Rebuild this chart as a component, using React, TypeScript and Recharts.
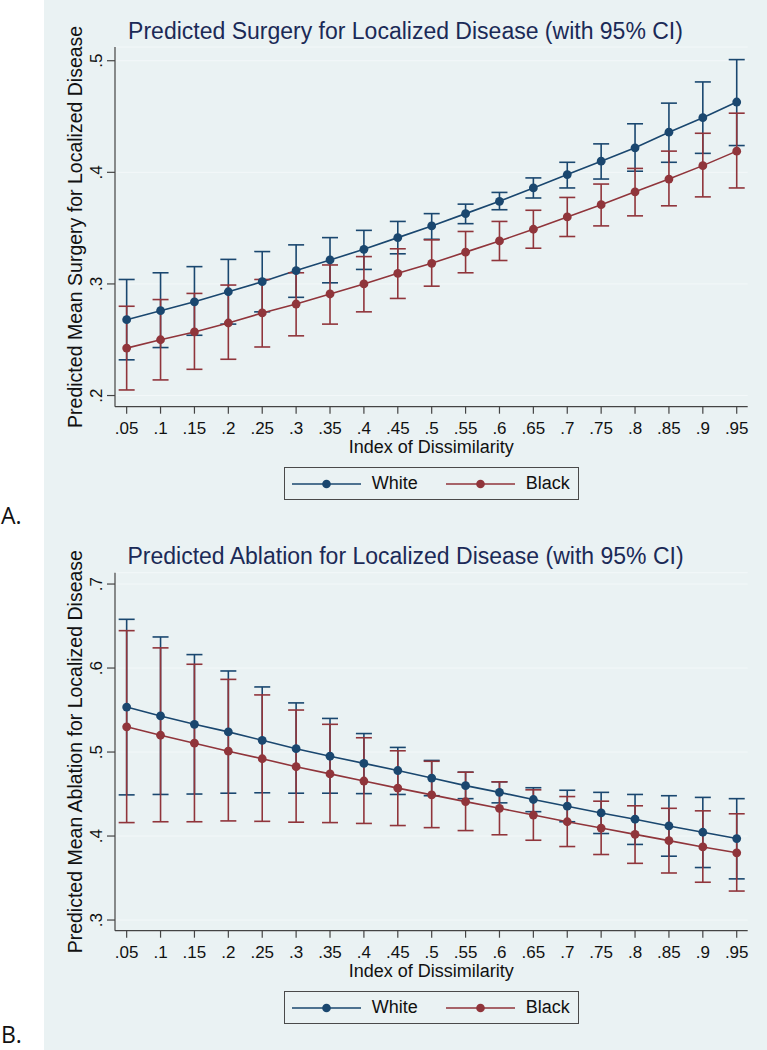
import {
  ComposedChart,
  Line,
  ErrorBar,
  XAxis,
  YAxis,
  CartesianGrid,
  Legend,
} from "recharts";

const BG = "#EAF2F3";
const NAVY = "#1A476F";
const MAROON = "#90353B";
const FONT = '"Liberation Sans", Arial, Helvetica, sans-serif';

// index of dissimilarity (x)
const dissimilarity = [
  0.05, 0.1, 0.15, 0.2, 0.25, 0.3, 0.35, 0.4, 0.45, 0.5, 0.55, 0.6, 0.65, 0.7,
  0.75, 0.8, 0.85, 0.9, 0.95,
];
const xTickLabels = [
  ".05", ".1", ".15", ".2", ".25", ".3", ".35", ".4", ".45", ".5", ".55", ".6",
  ".65", ".7", ".75", ".8", ".85", ".9", ".95",
];

// A. surgery
const surgeryWhite = [
  0.268, 0.276, 0.284, 0.293, 0.302, 0.312, 0.3215, 0.331, 0.3415, 0.352, 0.363,
  0.374, 0.386, 0.398, 0.41, 0.422, 0.436, 0.449, 0.463,
];
const surgeryWhiteLo = [
  0.232, 0.243, 0.254, 0.264, 0.275, 0.288, 0.301, 0.313, 0.327, 0.34, 0.354,
  0.3665, 0.377, 0.386, 0.394, 0.401, 0.409, 0.417, 0.424,
];
const surgeryWhiteHi = [
  0.304, 0.31, 0.3155, 0.322, 0.329, 0.335, 0.3415, 0.348, 0.356, 0.363, 0.3715,
  0.382, 0.395, 0.409, 0.4255, 0.4435, 0.462, 0.481, 0.501,
];
const surgeryBlack = [
  0.2425, 0.25, 0.257, 0.265, 0.274, 0.282, 0.291, 0.3, 0.3095, 0.3185, 0.3285,
  0.3385, 0.349, 0.36, 0.371, 0.3825, 0.394, 0.406, 0.419,
];
const surgeryBlackLo = [
  0.205, 0.214, 0.2235, 0.2325, 0.2435, 0.2535, 0.264, 0.275, 0.287, 0.298, 0.31,
  0.321, 0.332, 0.3425, 0.352, 0.361, 0.37, 0.378, 0.386,
];
const surgeryBlackHi = [
  0.28, 0.286, 0.2915, 0.299, 0.304, 0.31, 0.317, 0.3245, 0.3315, 0.3395, 0.347,
  0.356, 0.366, 0.3775, 0.3895, 0.4035, 0.419, 0.435, 0.453,
];
const surgeryTicks = [0.2, 0.3, 0.4, 0.5];
const surgeryTickLabels = [".2", ".3", ".4", ".5"];

// B. ablation
const ablationWhite = [
  0.5535, 0.543, 0.533, 0.524, 0.514, 0.504, 0.495, 0.4865, 0.478, 0.469, 0.46,
  0.452, 0.4435, 0.4355, 0.4275, 0.42, 0.412, 0.4045, 0.397,
];
const ablationWhiteLo = [
  0.449, 0.4495, 0.45, 0.451, 0.4515, 0.451, 0.451, 0.4505, 0.4495, 0.448,
  0.4445, 0.4395, 0.429, 0.417, 0.403, 0.39, 0.376, 0.3625, 0.349,
];
const ablationWhiteHi = [
  0.658, 0.637, 0.616, 0.5965, 0.5775, 0.5585, 0.54, 0.522, 0.5055, 0.49, 0.476,
  0.4645, 0.4575, 0.4545, 0.452, 0.4495, 0.448, 0.446, 0.4445,
];
const ablationBlack = [
  0.53, 0.52, 0.5105, 0.501, 0.492, 0.4825, 0.474, 0.4655, 0.457, 0.449, 0.441,
  0.433, 0.425, 0.417, 0.4095, 0.402, 0.3945, 0.387, 0.38,
];
const ablationBlackLo = [
  0.416, 0.417, 0.417, 0.418, 0.4175, 0.4165, 0.416, 0.415, 0.4125, 0.41, 0.4065,
  0.4015, 0.395, 0.3875, 0.378, 0.3675, 0.356, 0.345, 0.3345,
];
const ablationBlackHi = [
  0.6445, 0.624, 0.6045, 0.5865, 0.568, 0.55, 0.533, 0.517, 0.5015, 0.489, 0.476,
  0.4645, 0.455, 0.447, 0.4415, 0.436, 0.433, 0.43, 0.4265,
];
const ablationTicks = [0.3, 0.4, 0.5, 0.6, 0.7];
const ablationTickLabels = [".3", ".4", ".5", ".6", ".7"];

const legendItems = [
  { name: "White", color: NAVY },
  { name: "Black", color: MAROON },
];

function buildRows(
  wMean: number[],
  wLo: number[],
  wHi: number[],
  bMean: number[],
  bLo: number[],
  bHi: number[]
) {
  return dissimilarity.map((x, i) => ({
    x,
    white: wMean[i],
    whiteErr: [wMean[i] - wLo[i], wHi[i] - wMean[i]],
    black: bMean[i],
    blackErr: [bMean[i] - bLo[i], bHi[i] - bMean[i]],
  }));
}

const W = 723;
const H = 525;
const PLOT_LEFT = 71;
const PLOT_RIGHT = 703.7;
const X_DOMAIN = [0.0328, 0.9662];
const TITLE_SIZE = 23;

function LegendBox() {
  const iconLeft = [7.7, 161.7];
  const textLeft = [87.7, 241.7];
  return (
    <div
      style={{
        position: "relative",
        width: 295,
        height: 33,
        boxSizing: "border-box",
        border: "1px solid #4a4a4a",
        background: BG,
        fontFamily: FONT,
        fontSize: 18,
        color: "#111",
      }}
    >
      {legendItems.map((it, i) => (
        <div key={it.name}>
          <svg
            width={69}
            height={12}
            style={{ position: "absolute", left: iconLeft[i] - 1, top: 10 }}
          >
            <line x1={0} y1={6} x2={69} y2={6} stroke={it.color} strokeWidth={1.5} />
            <circle cx={34.5} cy={6} r={4.3} fill={it.color} />
          </svg>
          <span
            style={{
              position: "absolute",
              left: textLeft[i] - 1,
              top: 5,
              lineHeight: "20px",
            }}
          >
            {it.name}
          </span>
        </div>
      ))}
    </div>
  );
}

type PanelProps = {
  top: number;
  plotTop: number;
  plotBottom: number;
  title: string;
  yLabel: string;
  yDomain: number[];
  yTicks: number[];
  yTickLabels: string[];
  rows: ReturnType<typeof buildRows>;
};

function Panel({
  top,
  plotTop,
  plotBottom,
  title,
  yLabel,
  yDomain,
  yTicks,
  yTickLabels,
  rows,
}: PanelProps) {
  const YTick = (props: any) => {
    const { x, y, payload } = props;
    const label = yTickLabels[yTicks.indexOf(payload.value)];
    return (
      <text
        x={x}
        y={y}
        transform={`rotate(-90 ${x} ${y})`}
        textAnchor="middle"
        fontSize={17}
        fontFamily={FONT}
        fill="#111"
      >
        {label}
      </text>
    );
  };

  return (
    <div style={{ position: "absolute", left: 44, top, width: W, height: H }}>
      <div
        style={{
          position: "absolute",
          left: 0,
          width: W,
          top: plotTop - 8 - 0.8465 * TITLE_SIZE,
          textAlign: "center",
          fontFamily: FONT,
          fontSize: TITLE_SIZE,
          lineHeight: `${TITLE_SIZE}px`,
          color: "#1b2a57",
          whiteSpace: "nowrap",
        }}
      >
        {title}
      </div>
      <ComposedChart
        width={W}
        height={H}
        data={rows}
        margin={{ top: plotTop, right: W - PLOT_RIGHT, left: 0, bottom: 0 }}
        style={{ fontFamily: FONT }}
      >
        <CartesianGrid vertical={false} stroke="#f3f8f9" strokeWidth={1} />
        <XAxis
          dataKey="x"
          type="number"
          domain={X_DOMAIN}
          allowDataOverflow
          ticks={dissimilarity}
          tickFormatter={(v: number) => xTickLabels[dissimilarity.indexOf(v)]}
          interval={0}
          height={H - plotBottom}
          tickSize={7}
          tickMargin={8}
          tick={{ fill: "#111", fontSize: 17, fontFamily: FONT }}
          axisLine={{ stroke: "#444", strokeWidth: 1.2 }}
          tickLine={{ stroke: "#444", strokeWidth: 1.2 }}
          label={{
            content: () => (
              <text
                x={(PLOT_LEFT + PLOT_RIGHT) / 2}
                y={plotBottom + 46}
                textAnchor="middle"
                fontSize={18}
                fontFamily={FONT}
                fill="#111"
              >
                Index of Dissimilarity
              </text>
            ),
          }}
        />
        <XAxis
          xAxisId="top"
          orientation="top"
          type="number"
          domain={X_DOMAIN}
          allowDataOverflow
          height={0}
          tick={false}
          tickLine={false}
          axisLine={{ stroke: "#ffffff", strokeWidth: 1.5 }}
        />
        <YAxis
          type="number"
          domain={yDomain}
          allowDataOverflow
          ticks={yTicks}
          interval={0}
          width={PLOT_LEFT}
          tickSize={8}
          tickMargin={5}
          tick={YTick}
          axisLine={{ stroke: "#444", strokeWidth: 1.2 }}
          tickLine={{ stroke: "#444", strokeWidth: 1.2 }}
          label={{
            content: () => {
              const cy = (plotTop + plotBottom) / 2;
              return (
                <text
                  x={37.7}
                  y={cy}
                  transform={`rotate(-90 37.7 ${cy})`}
                  textAnchor="middle"
                  fontSize={19.5}
                  fontFamily={FONT}
                  fill="#111"
                >
                  {yLabel}
                </text>
              );
            },
          }}
        />
        <YAxis
          yAxisId="right"
          orientation="right"
          type="number"
          domain={yDomain}
          allowDataOverflow
          width={0}
          tick={false}
          tickLine={false}
          axisLine={{ stroke: "#ffffff", strokeWidth: 1.5 }}
        />
        <Line
          dataKey="white"
          name="White"
          stroke={NAVY}
          strokeWidth={1.6}
          dot={{ r: 4.4, fill: NAVY, stroke: NAVY, strokeWidth: 0 }}
          activeDot={false}
          isAnimationActive={false}
        >
          <ErrorBar
            dataKey="whiteErr"
            direction="y"
            width={8}
            stroke={NAVY}
            strokeWidth={1.6}
            isAnimationActive={false}
          />
        </Line>
        <Line
          dataKey="black"
          name="Black"
          stroke={MAROON}
          strokeWidth={1.6}
          dot={{ r: 4.4, fill: MAROON, stroke: MAROON, strokeWidth: 0 }}
          activeDot={false}
          isAnimationActive={false}
        >
          <ErrorBar
            dataKey="blackErr"
            direction="y"
            width={8}
            stroke={MAROON}
            strokeWidth={1.6}
            isAnimationActive={false}
          />
        </Line>
        <Legend
          layout="vertical"
          align="center"
          verticalAlign="middle"
          wrapperStyle={{ top: plotBottom + 60.6, left: 240, width: 295, height: 33 }}
          content={() => <LegendBox />}
        />
      </ComposedChart>
    </div>
  );
}

export default function App() {
  const surgeryRows = buildRows(
    surgeryWhite,
    surgeryWhiteLo,
    surgeryWhiteHi,
    surgeryBlack,
    surgeryBlackLo,
    surgeryBlackHi
  );
  const ablationRows = buildRows(
    ablationWhite,
    ablationWhiteLo,
    ablationWhiteHi,
    ablationBlack,
    ablationBlackLo,
    ablationBlackHi
  );

  const panelLetter = {
    position: "absolute" as const,
    left: 1,
    fontFamily: '"Open Sans", "Noto Sans", sans-serif',
    fontSize: 23,
    lineHeight: "24px",
    color: "#111",
  };

  return (
    <div
      style={{
        position: "absolute",
        left: 0,
        top: 0,
        width: 767,
        height: 1050,
        background: "#fff",
        overflow: "hidden",
      }}
    >
      <div
        style={{
          position: "absolute",
          left: 44,
          top: 0,
          width: 723,
          height: 1050,
          background: BG,
        }}
      />
      <Panel
        top={0}
        plotTop={47}
        plotBottom={406.7}
        title="Predicted Surgery for Localized Disease (with 95% CI)"
        yLabel="Predicted Mean Surgery for Localized Disease"
        yDomain={[0.19, 0.5123]}
        yTicks={surgeryTicks}
        yTickLabels={surgeryTickLabels}
        rows={surgeryRows}
      />
      <Panel
        top={525}
        plotTop={47.7}
        plotBottom={405.7}
        title="Predicted Ablation for Localized Disease (with 95% CI)"
        yLabel="Predicted Mean Ablation for Localized Disease"
        yDomain={[0.2873, 0.7135]}
        yTicks={ablationTicks}
        yTickLabels={ablationTickLabels}
        rows={ablationRows}
      />
      <div style={{ ...panelLetter, top: 503 }}>A.</div>
      <div style={{ ...panelLetter, top: 1022 }}>B.</div>
    </div>
  );
}
